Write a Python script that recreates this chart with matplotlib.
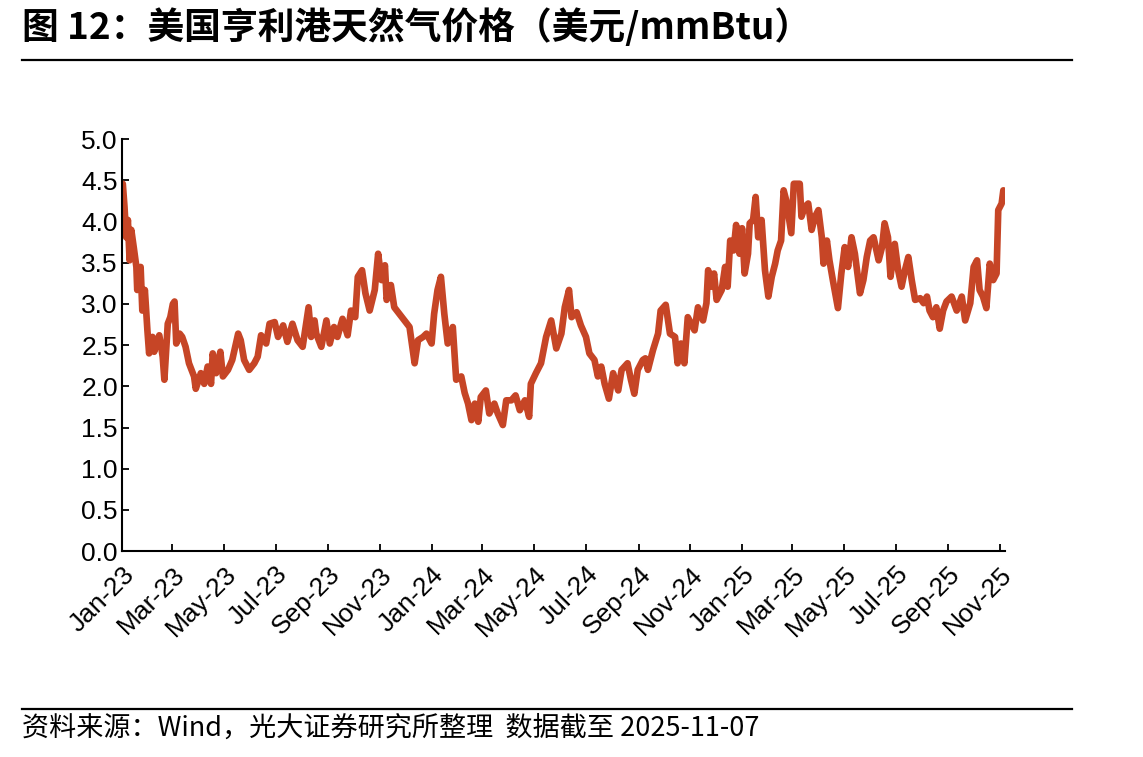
import matplotlib
matplotlib.use('Agg')
import matplotlib.pyplot as plt
import pandas as pd
import numpy as np
from matplotlib.lines import Line2D

# ---------------- data ----------------
start_date = '2023-01-01'
# days since 2023-01-01
day_offset = [1, 3, 5, 7, 9, 11, 14, 17, 18, 22, 24, 27, 30, 32, 36, 38, 44, 48, 50, 54,
              57, 60, 62, 64, 68, 71, 75, 79, 85, 87, 93, 97, 101, 105, 107, 111, 116, 119, 125, 130,
              137, 140, 144, 150, 156, 160, 164, 170, 174, 180, 184, 190, 195, 201, 207, 213, 220, 223, 227, 229,
              235, 241, 245, 250, 254, 260, 266, 270, 275, 278, 283, 287, 292, 298, 302, 306, 310, 312, 317, 321,
              327, 333, 339, 345, 349, 355, 359, 365, 368, 372, 376, 380, 384, 390, 394, 400, 404, 408, 412, 416,
              420, 423, 429, 433, 439, 443, 449, 453, 459, 464, 469, 475, 480, 482, 488, 494, 500, 506, 512, 518,
              522, 527, 530, 536, 541, 547, 551, 557, 561, 565, 569, 574, 579, 585, 589, 596, 600, 604, 608, 614,
              617, 620, 626, 632, 635, 641, 646, 652, 655, 659, 663, 667, 671, 675, 679, 685, 689, 691, 695, 698,
              701, 707, 711, 714, 717, 721, 724, 728, 731, 734, 738, 740, 744, 747, 750, 754, 758, 762, 766, 770,
              773, 777, 780, 783, 789, 792, 799, 801, 805, 809, 813, 817, 821, 825, 827, 831, 834, 838, 844, 848,
              852, 856, 860, 864, 870, 874, 878, 882, 886, 892, 896, 899, 903, 906, 911, 915, 919, 923, 927, 931,
              935, 941, 945, 949, 952, 956, 960, 964, 968, 972, 978, 984, 990, 994, 1000, 1004, 1008, 1011, 1015, 1019,
              1023, 1027, 1031, 1033, 1037, 1039, 1041]
price = [4.46, 4.18, 3.81, 4.02, 3.53, 3.90, 3.68, 3.45, 3.17, 3.45, 2.92, 3.17, 2.68, 2.40, 2.60, 2.42, 2.62, 2.36, 2.08, 2.76,
         2.84, 3.00, 3.03, 2.52, 2.64, 2.60, 2.48, 2.28, 2.12, 1.97, 2.16, 2.03, 2.24, 2.03, 2.40, 2.16, 2.42, 2.12, 2.20, 2.32,
         2.64, 2.56, 2.32, 2.20, 2.28, 2.36, 2.62, 2.52, 2.76, 2.78, 2.60, 2.74, 2.54, 2.76, 2.56, 2.48, 2.96, 2.60, 2.80, 2.64,
         2.48, 2.80, 2.52, 2.72, 2.60, 2.82, 2.62, 2.92, 2.84, 3.33, 3.41, 3.13, 2.92, 3.17, 3.61, 3.29, 3.47, 3.05, 3.23, 2.96,
         2.88, 2.80, 2.72, 2.28, 2.56, 2.60, 2.64, 2.52, 2.88, 3.17, 3.33, 2.88, 2.52, 2.72, 2.08, 2.12, 1.92, 1.79, 1.59, 1.79,
         1.57, 1.87, 1.95, 1.67, 1.79, 1.67, 1.53, 1.83, 1.83, 1.89, 1.71, 1.83, 1.63, 2.03, 2.16, 2.28, 2.60, 2.80, 2.46, 2.64,
         2.96, 3.17, 2.84, 2.90, 2.74, 2.60, 2.40, 2.32, 2.12, 2.24, 2.03, 1.85, 2.16, 1.95, 2.20, 2.28, 2.08, 1.91, 2.20, 2.32,
         2.34, 2.20, 2.44, 2.64, 2.92, 2.99, 2.64, 2.60, 2.28, 2.52, 2.28, 2.84, 2.76, 2.68, 2.96, 2.80, 3.01, 3.41, 3.21, 3.37,
         3.05, 3.17, 3.45, 3.21, 3.77, 3.65, 3.96, 3.61, 3.92, 3.37, 3.61, 3.98, 4.02, 4.30, 3.81, 4.02, 3.41, 3.09, 3.33, 3.49,
         3.65, 3.77, 4.38, 4.26, 3.86, 4.46, 4.46, 4.06, 4.18, 4.22, 3.90, 4.06, 4.14, 3.81, 3.49, 3.77, 3.53, 3.29, 2.95, 3.37,
         3.69, 3.45, 3.81, 3.61, 3.13, 3.29, 3.57, 3.77, 3.81, 3.53, 3.69, 3.98, 3.81, 3.33, 3.73, 3.41, 3.21, 3.41, 3.57, 3.29,
         3.05, 3.07, 3.01, 3.09, 2.92, 2.84, 2.96, 2.70, 2.92, 3.03, 3.09, 2.92, 3.09, 2.80, 3.01, 3.45, 3.53, 3.17, 3.09, 2.95,
         3.49, 3.29, 3.37, 4.14, 4.22, 4.38, 4.30]

tick_dates = ['2023-01-01', '2023-03-01', '2023-05-01', '2023-07-01', '2023-09-01', '2023-11-01',
              '2024-01-01', '2024-03-01', '2024-05-01', '2024-07-01', '2024-09-01', '2024-11-01',
              '2025-01-01', '2025-03-01', '2025-05-01', '2025-07-01', '2025-09-01', '2025-11-01']
tick_labels = ['Jan-23', 'Mar-23', 'May-23', 'Jul-23', 'Sep-23', 'Nov-23',
               'Jan-24', 'Mar-24', 'May-24', 'Jul-24', 'Sep-24', 'Nov-24',
               'Jan-25', 'Mar-25', 'May-25', 'Jul-25', 'Sep-25', 'Nov-25']
y_ticks = [0.0, 0.5, 1.0, 1.5, 2.0, 2.5, 3.0, 3.5, 4.0, 4.5, 5.0]

title = '图 12：美国亨利港天然气价格（美元/mmBtu）'
source = '资料来源：Wind，光大证券研究所整理  数据截至 2025-11-07'

# ---------------- plot ----------------
dates = pd.Timestamp(start_date) + pd.to_timedelta(day_offset, unit='D')

fig = plt.figure(figsize=(11.43, 7.57), dpi=100)
ax = fig.add_axes([0.1067, 0.2721, 0.7726, 0.5439])
ax.plot(dates, price, color='#C64526', lw=4.8, solid_joinstyle='round', solid_capstyle='round')

ax.set_xlim(pd.Timestamp('2023-01-01'), pd.Timestamp('2025-11-07'))
ax.set_ylim(0, 5)
ax.set_yticks(y_ticks)
ax.set_yticklabels([f'{v:.1f}' for v in y_ticks], fontfamily='Liberation Sans', fontsize=19)
ax.set_xticks(pd.to_datetime(tick_dates))
ax.set_xticklabels(tick_labels, fontfamily='Liberation Sans', fontsize=19,
                   rotation=45, ha='right', va='top', rotation_mode='anchor')

for s in ['top', 'right']:
    ax.spines[s].set_visible(False)
for s in ['left', 'bottom']:
    ax.spines[s].set_linewidth(1.5)
    ax.spines[s].set_color('black')
ax.tick_params(axis='both', direction='in', length=5, width=1.3, colors='black')
ax.tick_params(axis='y', pad=3)
ax.tick_params(axis='x', pad=8)

cjk = ['Noto Sans CJK SC', 'DejaVu Sans']
fig.text(22 / 1143, 1 - 28 / 757, title, family=cjk, fontsize=26.5, fontweight='bold',
         ha='left', va='center')
fig.add_artist(Line2D([22 / 1143, 1072 / 1143], [1 - 60 / 757, 1 - 60 / 757],
                      color='black', lw=1.6, transform=fig.transFigure))
fig.add_artist(Line2D([22 / 1143, 1072 / 1143], [1 - 709 / 757, 1 - 709 / 757],
                      color='black', lw=1.6, transform=fig.transFigure))
fig.text(22 / 1143, 1 - 728 / 757, source, family=cjk, fontsize=19.5,
         ha='left', va='center')

fig.savefig('out.png', dpi=100)
